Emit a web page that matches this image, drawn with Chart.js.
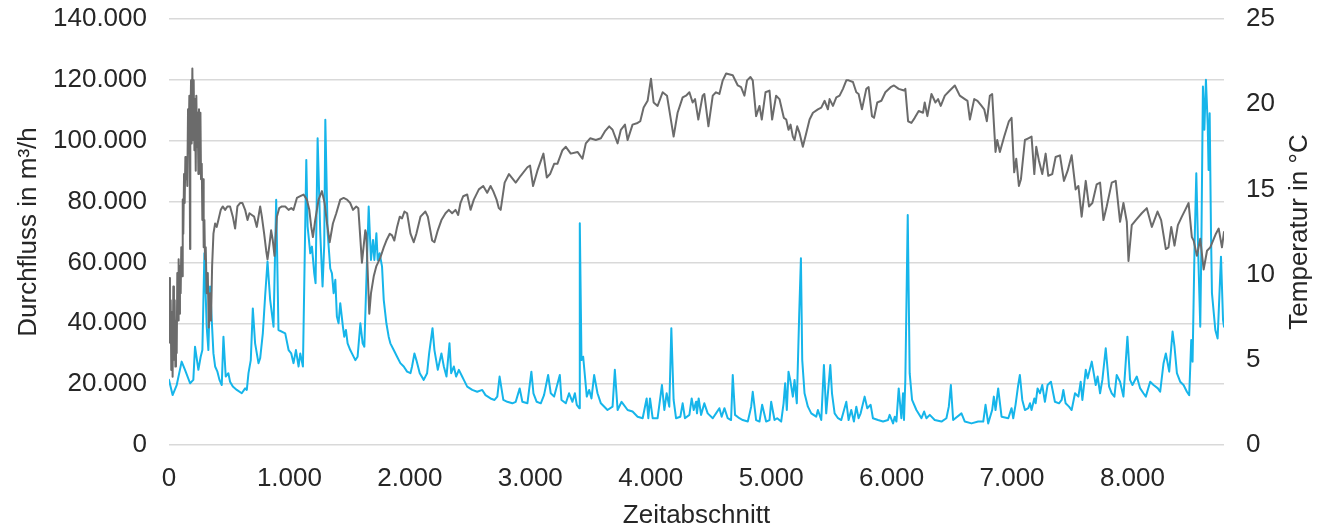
<!DOCTYPE html>
<html>
<head>
<meta charset="utf-8">
<script src="https://cdn.jsdelivr.net/npm/chart.js@4.4.1/dist/chart.umd.min.js"></script>
<style>
  html, body { margin: 0; padding: 0; background: #ffffff; }
  #wrap { width: 1321px; height: 529px; }
</style>
</head>
<body>
<div id="wrap"><canvas id="chart" width="1321" height="529"></canvas></div>
<script>
// Durchfluss (m³/h) je Zeitabschnitt (Stunde des Jahres)
const flowHours = [
  0,30,64,105,133,175,202,216,244,263,277,294,313,327,341,369,383,402,419,438,
  452,471,493,507,530,563,604,632,646,660,679,696,715,743,757,779,798,818,840,868,
  890,909,965,993,1015,1034,1054,1076,1090,1112,1140,1151,1173,1187,1206,1217,1234,1256,1275,1289,
  1298,1317,1339,
  1353,1367,1381,1394,1408,1422,1444,1455,1469,1483,1505,1519,1547,1566,1589,1608,1622,1658,1677,1694,
  1705,1722,1733,1749,1769,1783,1805,1824,1838,1866,1894,1921,1949,1977,2005,2018,2038,2054,2082,2115,
  2143,2160,2188,2204,2232,2262,2282,2304,2329,2343,2365,2384,2407,2434,2448,2476,2518,2559,2601,2628,
  2670,2703,2726,2745,
  2776,2809,2851,2879,2912,2934,2976,3009,3026,3053,3087,3114,3148,3170,3198,3245,3259,3295,3322,3350,
  3370,3386,3406,3411,3425,3439,3469,3489,3508,3530,3558,3586,3641,3683,3702,3725,3758,3808,3849,3891,
  3933,3966,3980,3994,4016,4057,4093,4113,4132,4154,4171,4190,
  4210,4246,4265,4284,4321,4340,4357,4376,4384,4398,4418,4445,4473,4515,4542,4570,4589,4612,4639,4667,
  4681,4700,4736,4764,4806,4834,4847,4875,4903,4925,4958,4986,5000,5028,5050,5083,5103,5116,5130,5144,
  5158,5180,5194,5213,5233,5247,5258,5277,5305,5333,5374,5388,5416,5438,5457,5491,5505,5527,5555,
  5582,5624,5643,5665,5687,5707,5726,5743,5776,5798,5826,5845,5887,5929,5970,5984,6012,6026,6040,6059,
  6081,6095,6103,6114,6134,6150,6170,6206,6248,6270,6289,6317,6358,6414,6455,6475,6492,6511,6580,6608,
  6663,6719,6761,6780,6802,6835,6849,6863,6885,6913,6969,
  6996,7010,7029,7051,7065,7085,7107,7135,7149,7162,7185,7196,7212,7232,7251,7273,7295,7323,7356,7390,
  7412,7426,7445,7473,7495,7523,7551,7570,7584,7612,7628,7662,7695,7711,7731,7750,7778,7806,7828,7850,
  7869,7897,7925,7958,7980,8000,8036,8064,8091,8111,8147,8175,8211,8230,8258,8277,8305,8333,8349,8369,
  8396,8424,8452,8471,8488,8499,8516,8530,8548,8563,8572,8585,8597,8610,8625,8632,8641,8652,8660,8688,
  8707,8735,8752,8760
];
const flowValues = [
  21400,16400,19700,27400,24700,20300,21400,32300,24700,29000,31200,63000,38900,31200,52100,30100,25800,24100,21400,19700,
  35600,22500,23600,20800,19200,18100,17000,18600,18100,23600,27900,44900,33400,26900,28500,36700,48800,60300,47700,38900,
  80600,37800,36700,31200,30100,26900,31200,25800,30100,25800,93700,71800,63000,65200,56400,53200,100800,69600,52100,65800,
  106900,70000,58000,
  56400,49900,54300,42200,40000,46600,38900,35600,37800,33400,31200,30100,27900,29000,40000,33400,32300,78400,60800,67400,
  60800,69600,60800,63000,58600,47700,40000,35600,33400,31200,29000,26900,25800,24100,23600,25800,30100,27900,23600,21400,
  23600,30100,38400,31200,24700,30100,25800,22500,33400,23600,25800,22500,24700,22500,21400,19200,18100,17500,18100,16400,
  15300,14800,15900,22500,
  14800,14200,13700,14200,18600,14200,13700,24100,17000,14200,13700,16400,23000,17000,15900,23000,14800,13700,17000,14200,
  17000,13200,12100,72900,27900,29000,15900,18100,15300,23000,17000,13700,11500,12600,24700,11500,14200,11500,11000,9300,
  8800,15300,8800,15300,8800,8800,19700,11500,17000,12600,38400,14800,
  8800,9300,13700,8800,9900,15300,11500,14200,10400,15300,9900,13700,10400,8800,10400,12100,9300,12100,8800,8200,
  23000,9900,8800,8200,7700,12600,17500,8200,7700,13200,7700,8200,14200,8200,8800,7700,13700,20300,11500,24100,
  21400,15900,21400,13700,43300,61400,27900,17000,12600,10400,9300,11500,8200,26300,10400,26300,17000,10400,8800,
  8200,14200,8200,11500,7700,12600,8800,10400,15900,12100,13200,8800,8200,7700,8200,9900,7100,9300,7700,18600,
  8800,17000,8200,21400,75600,23600,14800,11500,8800,11000,8800,9900,8200,7700,8800,12600,19700,8200,10400,7700,
  7100,7700,7700,13200,7100,11500,15900,11500,18600,9300,8800,
  12100,8800,13200,19700,23000,14800,11500,12100,13700,11500,15300,13700,18600,17000,19700,14200,19700,20800,14200,13700,
  14800,18100,13700,12600,11500,17000,15900,20800,14800,24700,21900,27400,19700,22500,17000,21400,31800,19200,17000,15900,
  23000,20800,15900,35600,21400,19700,22500,18600,17000,15900,20800,19700,18600,17500,26900,30100,24100,37300,32300,23600,
  20800,19700,17500,16400,34500,27400,66300,89300,60000,38900,65200,117800,103600,120000,105000,90400,109000,70000,49900,37800,
  35000,61900,41100,38900
];

// Temperatur (°C) je Zeitabschnitt
const tempHours = [
  0,8,14,19,25,30,36,41,47,53,58,64,69,75,80,86,91,97,102,108,
  114,119,125,130,136,141,147,152,158,163,169,175,177,183,188,194,200,205,211,216,
  222,227,233,238,244,249,255,261,266,272,277,283,288,294,299,305,313,322,330,335,
  341,349,358,369,383,396,410,430,446,466,485,507,530,549,568,590,610,632,652,668,
  688,707,729,743,757,771,790,807,818,835,848,862,876,896,915,937,965,993,1015,1034,
  1062,1090,1117,1145,1165,1181,1195,1214,1242,1270,1292,1312,1334,
  1361,1389,1422,1450,1478,1505,1528,1555,1572,1602,1630,1638,1663,1677,1700,1722,1755,1783,1805,1833,
  1852,1871,1894,1916,1935,1955,1977,2005,2032,2054,2088,2129,2149,2185,2204,2232,2262,2296,2323,2351,
  2379,2401,2420,2443,2476,2504,2531,2573,2609,2642,2670,2692,2720,2739,
  2754,2787,2823,2879,2920,2976,2998,3023,3059,3109,3137,3164,3198,3225,3267,3295,3336,3392,3433,3461,
  3497,3544,3586,3619,3655,3683,3725,3752,3786,3808,3849,3891,3913,3941,3974,4002,4024,4057,4099,4135,
  4190,4223,4265,
  4293,4321,4348,4368,4395,4431,4445,4479,4515,4542,4570,4598,4626,4681,4723,4750,4778,4800,4828,4847,
  4875,4903,4922,4953,4986,5008,5041,5069,5105,5125,5144,5161,5180,5194,5216,5236,5263,5291,5319,5347,
  5388,5416,5444,5471,5485,5513,5541,5568,5596,5624,
  5643,5679,5707,5726,5754,5790,5809,5837,5854,5881,5915,5948,5992,6020,6059,6103,6114,6137,6164,6192,
  6225,6261,6275,6297,6331,6364,6386,6408,6442,6483,6525,6566,6608,6630,6650,6686,6713,6747,6769,6791,
  6816,6835,6863,6877,6899,6935,6974,
  6996,7018,7035,7057,7074,7107,7135,7162,7185,7201,7223,7251,7279,7301,7334,7362,7398,7431,7462,7495,
  7528,7551,7578,7612,7639,7667,7703,7731,7759,7786,7828,7861,7897,7925,7953,7967,7994,8028,8077,8119,
  8161,8208,8238,8277,8299,8322,8349,8377,8410,8438,8466,8493,8508,8535,8563,8591,8619,8646,8693,8716,
  8743,8760
];
const tempValues = [
  9.8,6.0,8.5,4.4,7.8,4.0,9.3,5.0,8.5,4.6,7.3,5.4,10.1,7.3,10.9,7.7,10.5,8.9,11.6,9.9,
  14.4,12.4,15.9,14.2,16.9,15.6,16.7,15.2,19.7,17.7,20.5,11.5,18.7,21.4,17.7,22.1,17.9,21.4,17.3,20.3,
  16.1,20.5,17.5,19.5,15.9,19.7,16.7,19.5,15.6,16.5,13.2,15.6,11.6,13.2,10.9,11.6,8.9,10.1,6.9,7.7,
  8.9,7.3,10.5,12.4,13.0,12.8,13.2,13.8,14.0,13.8,14.0,14.0,13.4,12.7,14.0,14.2,14.2,13.8,13.2,13.6,
  13.5,13.4,12.8,13.4,14.0,13.4,12.4,11.4,10.9,11.8,12.6,12.0,11.1,13.4,13.9,14.0,14.0,13.8,13.9,13.8,
  14.5,14.6,14.7,14.4,13.8,12.8,12.2,13.2,14.4,14.9,14.2,13.0,11.9,
  13.0,13.6,14.4,14.5,14.4,14.2,13.8,14.0,13.9,10.7,12.6,12.4,7.7,8.9,9.9,10.5,11.0,11.6,12.0,12.4,
  12.3,12.0,12.8,13.4,13.3,13.7,13.6,12.4,11.9,12.4,13.4,13.7,13.4,12.0,11.9,12.6,13.2,13.6,13.8,13.6,
  13.8,13.5,14.2,14.6,14.7,13.8,14.4,15.0,15.2,14.8,15.2,14.9,14.4,13.9,
  13.8,15.4,15.9,15.4,15.8,16.3,16.4,15.2,16.1,17.1,15.7,15.9,16.5,16.5,17.3,17.5,17.1,17.2,16.8,17.7,
  18.0,17.9,18.0,18.4,18.7,18.5,17.7,18.5,18.8,17.9,18.8,18.9,19.0,19.8,20.2,21.5,20.1,19.9,20.7,20.5,
  18.1,19.5,20.4,
  20.5,20.7,20.1,20.3,19.1,20.5,20.6,18.7,20.5,20.7,20.6,21.4,21.8,21.7,21.1,21.0,20.5,21.4,21.6,21.4,
  19.3,19.9,19.1,20.7,20.8,19.1,20.5,20.3,19.2,19.1,18.5,18.8,18.1,17.9,18.7,18.3,17.5,18.3,19.1,19.5,
  19.7,19.8,20.2,19.7,20.3,19.9,20.4,20.5,20.9,21.4,
  21.4,21.3,20.7,20.6,19.7,20.9,21.0,19.3,19.2,20.1,20.2,20.7,21.0,21.1,20.9,20.8,20.9,19.0,18.9,19.2,
  19.6,19.5,20.1,19.3,20.6,20.1,20.3,19.9,20.5,20.8,21.1,20.5,20.3,20.2,19.1,20.3,20.2,19.9,19.7,19.0,
  20.5,20.6,17.2,17.9,17.2,18.1,19.0,
  19.2,16.0,16.8,15.2,15.6,17.9,18.0,18.1,15.9,17.5,16.7,15.9,17.1,15.8,15.9,16.9,17.0,15.5,16.1,17.0,
  15.0,15.2,13.4,15.5,14.0,14.2,15.3,15.4,13.2,14.0,15.4,15.5,13.1,14.2,13.1,10.8,12.9,13.2,13.6,13.9,
  12.8,13.7,13.2,11.5,11.6,12.8,11.7,12.9,13.4,13.8,14.2,12.2,12.0,11.1,12.1,10.3,11.4,11.6,12.4,12.7,
  11.6,12.5
];

// Achsenteilung und -beschriftungen
const xTickValues = [0, 1000, 2000, 3000, 4000, 5000, 6000, 7000, 8000];
const xTickLabels = ['0', '1.000', '2.000', '3.000', '4.000', '5.000', '6.000', '7.000', '8.000'];
const flowTickLabels = ['0', '20.000', '40.000', '60.000', '80.000', '100.000', '120.000', '140.000'];
const tempTickLabels = ['0', '5', '10', '15', '20', '25'];

const FONT = "'Liberation Sans', Arial, sans-serif";
const TEXT = '#262626';
const SIZE = 26;

// Titel der rechten Achse, von unten nach oben gelesen
const rightAxisTitle = {
  id: 'rightAxisTitle',
  afterDraw(chart) {
    const { ctx, chartArea } = chart;
    ctx.save();
    ctx.font = SIZE + 'px ' + FONT;
    ctx.fillStyle = TEXT;
    ctx.textAlign = 'center';
    ctx.textBaseline = 'middle';
    ctx.translate(chart.width - 21, (chartArea.top + chartArea.bottom) / 2);
    ctx.rotate(-Math.PI / 2);
    ctx.fillText('Temperatur in °C', 0, 0);
    ctx.restore();
  }
};

// feste Achsenmaße, ohne zusätzlichen Randausgleich für Beschriftungen
function fixBox(width, height) {
  return function (scale) {
    if (width !== null) scale.width = width;
    if (height !== null) scale.height = height;
    scale.paddingTop = 0;
    scale.paddingBottom = 0;
    scale.paddingLeft = 0;
    scale.paddingRight = 0;
  };
}

const toPoints = (xs, ys) => xs.map((x, i) => ({ x: x, y: ys[i] }));

new Chart(document.getElementById('chart'), {
  type: 'line',
  data: {
    datasets: [
      {
        label: 'Temperatur',
        data: toPoints(tempHours, tempValues),
        yAxisID: 'yT',
        borderColor: '#6b6b6b',
        borderWidth: 2,
        pointRadius: 0,
        order: 1
      },
      {
        label: 'Durchfluss',
        data: toPoints(flowHours, flowValues),
        yAxisID: 'yF',
        borderColor: '#16b5ea',
        borderWidth: 2,
        pointRadius: 0,
        order: 2
      }
    ]
  },
  options: {
    responsive: false,
    animation: false,
    events: [],
    layout: { padding: { top: 19, left: 0, right: 0, bottom: 0 } },
    elements: { line: { tension: 0, borderJoinStyle: 'round', borderCapStyle: 'round' } },
    plugins: { legend: { display: false }, tooltip: { enabled: false } },
    scales: {
      x: {
        type: 'linear',
        position: 'bottom',
        min: 0,
        max: 8760,
        grid: { display: false, drawTicks: false },
        border: { display: false },
        afterBuildTicks(scale) {
          scale.ticks = xTickValues.map(v => ({ value: v }));
        },
        ticks: {
          autoSkip: false,
          maxRotation: 0,
          padding: 18,
          color: TEXT,
          font: { family: FONT, size: SIZE },
          callback: (v, i) => xTickLabels[i]
        },
        title: {
          display: true,
          text: 'Zeitabschnitt',
          color: TEXT,
          font: { family: FONT, size: SIZE },
          padding: { top: 0, bottom: -2 }
        },
        afterFit: fixBox(null, 84)
      },
      yF: {
        type: 'linear',
        position: 'left',
        min: 0,
        max: 140000,
        grid: { color: '#d9d9d9', lineWidth: 1.5, drawTicks: false },
        border: { display: false },
        ticks: {
          stepSize: 20000,
          padding: 22,
          color: TEXT,
          font: { family: FONT, size: SIZE },
          callback: (v, i) => flowTickLabels[i]
        },
        title: {
          display: true,
          text: 'Durchfluss in m³/h',
          color: TEXT,
          font: { family: FONT, size: SIZE },
          padding: { top: 13, bottom: 0 }
        },
        afterFit: fixBox(169, null)
      },
      yT: {
        type: 'linear',
        position: 'right',
        min: 0,
        max: 25,
        grid: { display: false, drawTicks: false },
        border: { display: false },
        ticks: {
          stepSize: 5,
          padding: 22,
          color: TEXT,
          font: { family: FONT, size: SIZE },
          callback: (v, i) => tempTickLabels[i]
        },
        afterFit: fixBox(97, null)
      }
    }
  },
  plugins: [rightAxisTitle]
});
</script>
</body>
</html>
